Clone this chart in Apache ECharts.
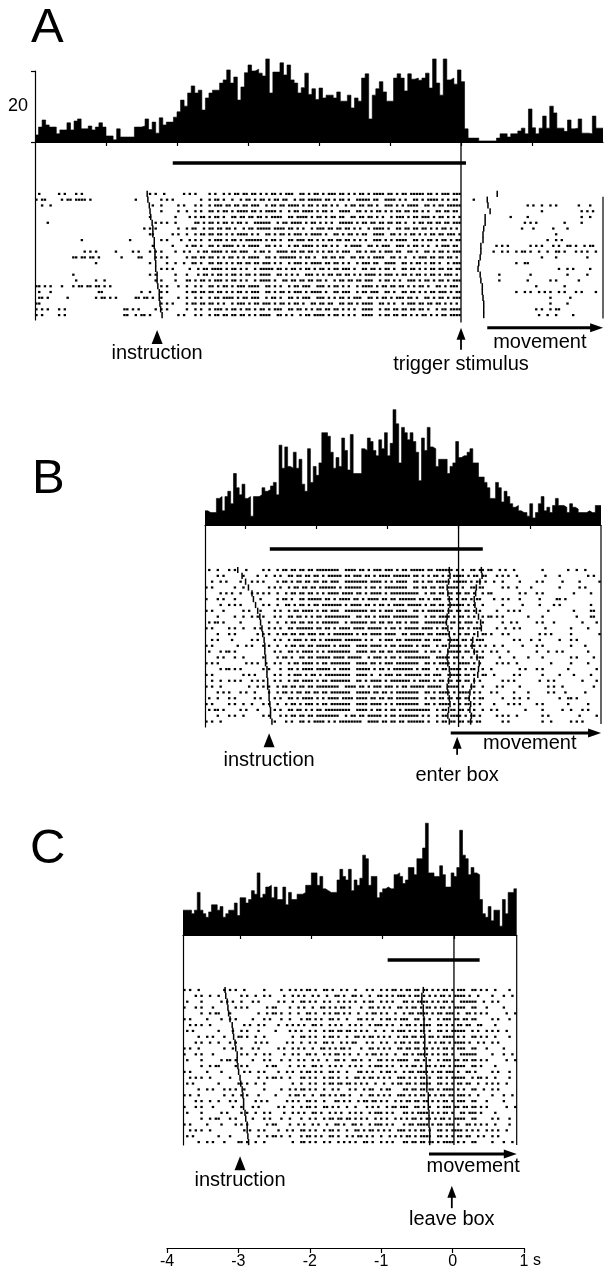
<!DOCTYPE html>
<html>
<head>
<meta charset="utf-8">
<script src="https://cdn.jsdelivr.net/npm/echarts@6/dist/echarts.min.js"></script>
<style>
html, body { margin: 0; padding: 0; background: #fff; }
#chart { width: 604px; height: 1276px; }
</style>
</head>
<body>
<div id="chart"></div>
<script>
// PSTH values (spikes/s). A: 50 ms bins from -6 s, B: 40 ms bins from -3.56 s, C: 40 ms bins from -3.8 s
const histA = [2,4.2,6.2,4.8,4.2,4.2,2.3,3.4,3.4,5.4,
  3.4,5.9,6.5,3.7,3.7,4.5,3.4,4.2,5.4,4.2,
  1.7,1.7,0.6,3.7,1.4,1.4,1.4,1.4,4.2,4.2,
  4.5,6.5,3.5,5.6,2.5,6.8,4.8,5.6,5.6,7,
  8.5,11.8,10.1,13.8,15.8,13.8,14.6,9,12.4,13.8,
  14.6,14.6,16.6,17.5,20.3,16.6,18.3,11.8,15.5,19.5,
  21.7,20,20.5,19.4,18.6,23.4,13.8,19.7,19.7,22.3,
  18.9,21.7,17.5,16.6,13.8,15.3,19.4,13.4,15,12,
  15.2,12.4,13.2,13.2,12.4,14.1,11.5,11.5,13.2,9.6,
  12.4,11.5,18,19.2,6.5,13.2,15,17,14.1,11.5,
  11.5,18,19.2,18,14.4,19.2,17.7,18,17.4,18,
  19.4,15.2,23.4,16.6,13.2,23.4,17.5,18,16.3,20.3,
  17,3.7,1.1,1.1,1.1,0.3,0.3,0.3,0.3,0.3,
  1.1,2.3,2.3,1.4,2.3,2.3,3.1,3.9,2.3,9.3,
  4,2.3,3.9,7.3,3.9,10.1,8.2,3.9,3.9,3,
  6.2,3.7,3.9,6.5,2.5,2.5,2.3,7.3,3.9,3.9];
const histB = [4,3.5,3.5,3.5,7.5,8,4,8,9.5,6,
  14.5,10.5,8.5,11.5,7.5,8,2.5,8,8,8.5,
  10.5,9.5,10,11,12,8.5,22.5,16,22,16.5,
  16,20.5,16,18.5,11.5,9.5,21.5,12,16.5,14,
  17.5,26,26,25,20.5,16,19,16.5,24.5,21,
  15.5,25.5,14.5,14.5,14.5,21.5,21,24.5,23.5,21,
  19.5,24,21.5,26,19.5,23,32.5,28.5,17.5,27.5,
  26,24,26,23.5,20.5,12.5,24.5,21,27.5,22,
  21.5,16.5,18.5,18.5,18.5,14.5,16.5,17.5,23.5,19,
  19.5,19.5,20.5,21.5,17.5,17.5,13.5,13.5,12,10.5,
  7.5,7.5,12,10.5,6.5,9.5,8,6,5,5.5,
  4,3.5,3.5,2.5,6,2,3.5,6,8,4,
  5,3.5,5.5,7.5,5.5,5.5,5,3.5,6,5,
  4.5,3.5,3.5,3.5,4,3.5,3.5,5.5,5.5];
const histC = [7,7,7,6,7,12,7,6,5,6.5,
  8.5,8.5,7,8,5,6,7,7,9,5.5,
  10.5,10.5,9,10,12.5,11.5,17.5,10.5,11.5,13.5,
  14,10.5,13.5,10,10,13.5,8.5,12,10,10,
  11.5,11.5,12,14,14,17.5,17.5,14,16.5,13,
  12.5,12,12,12,15.5,18.5,16.5,15.5,18.5,12.5,
  15.5,14,16,22.5,21.5,14,16.5,16.5,10.5,12,
  13,13.5,13,13,17,17.5,16.5,14.5,15.5,19,
  19,17,21.5,21.5,24.5,31.5,17.5,17.5,16.5,16.5,
  19.5,17,13.5,13.5,17.5,16.5,19,29.5,22.5,21.5,
  17,19,17.5,17,10,6,5,8,4,7,
  7,2.5,10,6,12,12,13];

// rasters: one row per trial, hex digits, each bit = one 40 ms bin (first bit = panel start)
const rasterA = [
  '40a2800000 a40a852b6d5ae6b5dab5ed6fb5dc 000000000000',
  'b05bd00010 0a8025a4b5ad96fb5a7d9ea6bd58 200000000000',
  '2400000000 4828a5db6e5b7ad6a5b69d5e6b7c 000005250110',
  '0000000000 0824a6b5ed7a5bd69e6ad5b6a6d8 0000002000a8',
  '0000000000 8042b5a6db5e6f5ad9b6a5d6eb54 000104000090',
  '0800000000 2a40d6b5a7e5bd6a9f5b6da5b6dc 00000a802080',
  '0000000002 a02596da5bef6a5db6a5e9b6d5a8 000011021000',
  '0000000000 c0a4b6d5ea6b5d7a6b59e6ad5b74 000000010000',
  '0000800040 0a12a5d6bf5a6ed5b6a9d5e6b5ac 000000094000',
  '0000000000 4085a6bd5e6a5bd6a5e6b9d6a5d8 002a02a29a58',
  '0000540828 a84a5bd6e5a7b6d5ae6b5d9a6b5c 004a5a49a2a4',
  '0006da020c 2a05b6ad5e6bf5a6d9b5e6a5db68 000000210020',
  '0000040000 8249a6d5b6ea5d7b6a5d9e6b5a5c 00004c000000',
  '0000000000 0a825bd6a5f6b5ad6e9b5a6d5b6c 000000009410',
  '0004000000 a0445ad6b5e6a9d5b6af5d6b5ae8 001002001020',
  '0002048000 2846b5d6a5e9b6da5b6e5a9d6b5c 001004050100',
  'd445b6a000 0a24a6b5de6a5b9d6a5eb6d5a6b8 000000802000',
  '4400030004 8a05b6d5ae6b5d7a6e5b9a6d5bac 00004a54a284',
  '681005a81b 4824a5bd6e5a6b9d5ae6b5da6b5c 000000040800',
  'c000000000 0a85b6a5d6eb5a6d9b5e6a5db6a8 000000041000',
  'a8a00001a8 2a04a5d6b5ae6d5b6a9e5b6da5bc 000000a58000',
  'a0a0000196 8028a5b6d5e6a5bd6a9e5b6ad5bc 000000490400'
];
const rasterB = [
  '48a20 a5b6dfe7b5dd6fb7ea6d 9480201240',
  '0a042 4a6db5f6ed7bf6ad5eb6 2a40108028',
  '2508a 85adb6e7fbd5e6b7df5a 4820a04102',
  'a0240 2a5b6fd7eb5fe6db7a6c 0a42008140',
  '0548a a4b6d5ef6bd7fe5b6da5 8028a00410',
  '8a201 05a6fb5ed7b6fdae6b58 4a2041a000',
  '04a80 a4d6b7f5ed6bdf5b7ea4 0810428010',
  'a2051 0a5bd6e7fb5de6bf6da8 22a0080418',
  '0824a 8a6d5bfe6d7bfe5bd6a5 a804200218',
  '5a080 24b6d7e5fb6dae7fb5d4 0940a20084',
  'a0a45 2a6fdb5ef7d6bef5a6b8 24a0100820',
  '08a02 a5b6ed7f5bde6fb7d5a6 8a00540802',
  '2840a 0a5d6bf7ea5dbf6e7b5c 00a2408a00',
  'a0128 a4b6df5e7bd6fae5bd6a 4810a00840',
  '45a00 0a6bd5fe7b6dfe5a7db4 a200894020',
  '0a240 85a6df7be5d6bfe7da5c 1084200a08',
  'a802a 4a5bd6fe7b5dfe6bd7a8 2a40040820',
  '05a80 a26bdf5e7d6bfae5bd64 8028a01004',
  'a0054 0a5d6bfe7a5dbf6e7da6 40a0208410',
  '24a8a 8a5bd6fe6bd7f5eb6da8 0a804a0084',
  'a4012 a5b6dfe7b5dd6fbe7a64 28200a4008',
  '0a8a4 25adb6fe7db5fe6bd7a8 a0840a2041',
  '48a05 0a6bd5ef7b6dfe5b6dac 08a4009a00',
  'a0a48 a4b5d6fe7bd5fe6bd5a8 42a0a01020',
  '5a0a2 0a6d5bfe7ad6bfe5b6a4 a0082048a0',
  '08a40 a2b6dfe5b7d6fea5bd68 2a40280104',
  'a4000 08a6bd5fe7b6dfa5b6d8 0a00240a80'
];
const rasterC = [
  'a402 a40825 5a6948a56 b6d5ae6 a420',
  '0a48 0a4a12 a5269a4d5 d6ab5e9 0894',
  '4205 48a052 6a52a9654 6bd5a7e 4a02',
  '8a20 2a0584 a4d5a26a9 ad6b5e6 2084',
  '0258 8025a4 9a56a4b52 5bd6e9a a048',
  'a084 a08a24 5a9a46a5a e6a5db6 0a24',
  '2a40 05284a a6952a5d4 b5e6ad9 8402',
  '5008 4a2085 4a5b6a925 d5a6be5 2a40',
  '04a2 1a4802 6a5a4d6a9 6db5ea6 a420',
  '0a48 a0540a 4a6958a52 d6ab5e9 4a02',
  'a402 48a052 a4d5a26a9 b6d5ae6 2084',
  '8a20 0a4a12 9a56a4b52 6bd5a7e 0894',
  '4205 a08a24 a5269a4d5 e6a5db6 a048',
  '0258 2a0584 a6952a5d4 ad6b5e6 8402',
  'a084 05284a 5a9a46a5a 5bd6e9a 0a24',
  '2a40 8025a4 6a5a4d6a9 d5a6be5 a420',
  '5008 1a4802 4a5b6a925 b5e6ad9 2a40',
  '04a2 a40825 6a4a29658 6db5ea6 4a02',
  'a402 4a2085 a4d5a26a9 d5ab6e9 0894',
  '0a48 a0540a 9a46a5b52 b6d5ae6 2084',
  '8a20 48a052 5a6a48a96 e6a5db6 a048',
  '4205 0a4a12 a6952a5d4 6bd5a6e 8402',
  '0258 a08a24 4a5b6a952 ad6b5e6 0a24',
  'a084 2a0584 a5269a5d4 5bd6e9a a420',
  '2a40 05284a 6a5a4d6a9 d5a6bd5 2a40',
  '5008 8025a4 5a9a56a4a b5e6ad9 4a02',
  '04a2 1a4802 6a52a9a54 6db5ea6 0894'
];

// per-trial event ticks (s)
const instrA = [-4.42,-4.41,-4.39,-4.38,-4.37,-4.35,-4.34,-4.34,-4.32,-4.32,-4.31,-4.31,-4.30,-4.30,-4.28,-4.28,-4.27,-4.25,-4.25,-4.24,-4.23,-4.21];
const moveA = [0.51,0.37,0.38,0.41,0.34,0.34,0.32,0.31,0.31,0.28,0.28,0.27,0.25,0.24,0.27,0.28,0.30,0.30,0.31,0.32,0.32,0.32];
const instrB = [-3.10,-3.04,-2.99,-2.95,-2.90,-2.88,-2.85,-2.82,-2.79,-2.78,-2.76,-2.75,-2.73,-2.72,-2.72,-2.71,-2.71,-2.69,-2.69,-2.68,-2.68,-2.66,-2.66,-2.65,-2.64,-2.64,-2.62];
const preB = [-0.13,-0.12,-0.14,-0.16,-0.15,-0.13,-0.12,-0.14,-0.16,-0.17,-0.15,-0.13,-0.12,-0.13,-0.15,-0.16,-0.15,-0.13,-0.12,-0.14,-0.16,-0.15,-0.13,-0.12,-0.14,-0.15,-0.13];
const postB = [0.32,0.33,0.30,0.25,0.24,0.22,0.23,0.25,0.28,0.31,0.32,0.27,0.20,0.19,0.22,0.26,0.29,0.28,0.27,0.22,0.18,0.16,0.15,0.17,0.16,0.18,0.17];
const instrC = [-3.21,-3.20,-3.18,-3.17,-3.16,-3.14,-3.11,-3.10,-3.09,-3.07,-3.06,-3.04,-3.04,-3.03,-3.02,-3.00,-2.99,-2.97,-2.96,-2.95,-2.95,-2.93,-2.92,-2.90,-2.90,-2.89,-2.88];
const preC = [-0.43,-0.45,-0.45,-0.43,-0.43,-0.42,-0.42,-0.42,-0.41,-0.41,-0.41,-0.41,-0.39,-0.39,-0.39,-0.38,-0.38,-0.38,-0.36,-0.36,-0.36,-0.35,-0.35,-0.35,-0.34,-0.34,-0.34];

// bars of sustained activity and annotations
const barA = [-4.06, 0.07];
const barB = [-2.65, 0.34];
const barC = [-0.93, 0.36];
const labelsA = ['instruction', 'trigger stimulus', 'movement'];
const labelsB = ['instruction', 'enter box', 'movement'];
const labelsC = ['instruction', 'leave box', 'movement'];
const labelTimesA = [-4.28, 0, 1.11];
const labelTimesB = [-2.66, -0.02, 1.0];
const labelTimesC = [-3.0, -0.03, 0.27];
const moveSpanA = [0.37, 2.0];
const moveSpanB = [-0.11, 2.0];
const moveSpanC = [-0.35, 0.88];

const FONT = '"Liberation Sans", Arial, Helvetica, sans-serif';
const BIN = 0.04;

function decode(rows, start, end) {
  const pts = [];
  rows.forEach((s, r) => {
    const hex = s.replace(/\s+/g, '');
    for (let k = 0; k < hex.length; k++) {
      const v = parseInt(hex[k], 16);
      for (let b = 0; b < 4; b++) {
        if (v & (8 >> b)) {
          const t = start + (4 * k + b + 0.5) * BIN;
          if (t < end) pts.push([t, r]);
        }
      }
    }
  });
  return pts;
}

const panels = [
  { hist: histA, histBin: 0.05, raster: rasterA, marks: [instrA, moveA], bar: barA,
    labels: labelsA, times: labelTimesA, move: moveSpanA,
    start: -6, end: 2, left: 35, width: 568, base: 142, rastH: 178, rows: [-9, 21.85],
    ticks: [-5, -4, -3, -2, -1, 0, 1], edge: [0.5, 21.6], scaleBar: true,
    lay: { bar: -5.36, zeroEnd: 22.3, tri: 24.8, instr: 27.6, head: 24.24, tail: 27.0, zeroLabel: 29.6, move: 23.2, moveLabel: 25.8 } },
  { hist: histB, histBin: 0.04, raster: rasterB, marks: [instrB, preB, postB], bar: barB,
    labels: labelsB, times: labelTimesB, move: moveSpanB,
    start: -3.56, end: 2, left: 205, width: 396, base: 525, rastH: 202, rows: [-7.72, 26.93],
    ticks: [-3, -2, -1, 0, 1], edge: [-7.72, 26.4], scaleBar: false,
    lay: { bar: -3.6, zeroEnd: 26.93, tri: 29.2, instr: 32.6, head: 29.63, tail: 31.7, zeroLabel: 35.2, move: 27.96, moveLabel: 29.7 } },
  { hist: histC, histBin: 0.04, raster: rasterC, marks: [instrC, preC], bar: barC,
    labels: labelsC, times: labelTimesC, move: moveSpanC,
    start: -3.8, end: 0.88, left: 183, width: 333.7, base: 935, rastH: 210, rows: [-9.4, 26.5],
    ticks: [-3, -2, -1, 0], edge: [-9.4, 26.5], scaleBar: false,
    lay: { bar: -5.13, zeroEnd: 26.5, tri: 29.6, instr: 32.65, head: 34.5, tail: 37.3, zeroLabel: 39.15, move: 28.04, moveLabel: 30.1 } }
];

const black = '#000';
const option = {
  animation: false,
  backgroundColor: '#fff',
  title: [
    { text: 'A', left: 31, top: 4, padding: 0, textStyle: { fontSize: 49, fontWeight: 'normal', color: black, fontFamily: FONT } },
    { text: 'B', left: 32, top: 455, padding: 0, textStyle: { fontSize: 49, fontWeight: 'normal', color: black, fontFamily: FONT } },
    { text: 'C', left: 30, top: 825, padding: 0, textStyle: { fontSize: 49, fontWeight: 'normal', color: black, fontFamily: FONT } }
  ],
  grid: [], xAxis: [], yAxis: [], series: []
};

function lineSeries(xi, yi, pts, w) {
  return { type: 'line', xAxisIndex: xi, yAxisIndex: yi, data: pts, symbol: 'none', clip: false,
    silent: true, lineStyle: { color: black, width: w }, z: 3 };
}
function markSeries(xi, yi, pts, symbol, size, rotate) {
  return { type: 'scatter', xAxisIndex: xi, yAxisIndex: yi, data: pts, symbol: symbol, symbolSize: size,
    symbolRotate: rotate || 0, clip: false, silent: true, itemStyle: { color: black, opacity: 1 }, z: 4 };
}

panels.forEach(p => {
  const g = option.grid.length;
  option.grid.push({ left: p.left, top: p.base - 71, width: p.width, height: 71 });
  option.grid.push({ left: p.left, top: p.base, width: p.width, height: p.rastH });
  const xh = option.xAxis.length, xr = xh + 1;
  option.xAxis.push({ gridIndex: g, type: 'value', min: p.start, max: p.end,
    axisLine: { show: true, onZero: false, lineStyle: { color: black, width: 1.2 } },
    axisTick: { show: true, length: 4, customValues: p.ticks, lineStyle: { color: black, width: 1.2 } },
    axisLabel: { show: false }, splitLine: { show: false } });
  option.xAxis.push({ gridIndex: g + 1, type: 'value', min: p.start, max: p.end, show: false });
  const yh = option.yAxis.length, yr = yh + 1;
  if (p.scaleBar) {
    option.yAxis.push({ gridIndex: g, type: 'value', min: 0, max: 20, interval: 20,
      axisLine: { show: true, onZero: false, lineStyle: { color: black, width: 1.2 } },
      axisTick: { show: true, length: 4, lineStyle: { color: black, width: 1.2 } },
      axisLabel: { show: false }, splitLine: { show: false },
      name: '20', nameLocation: 'middle', nameRotate: 0, nameGap: 7,
      nameTextStyle: { color: black, fontSize: 18, fontFamily: FONT } });
  } else {
    option.yAxis.push({ gridIndex: g, type: 'value', min: 0, max: 20, show: false });
  }
  option.yAxis.push({ gridIndex: g + 1, type: 'value', inverse: true, min: p.rows[0], max: p.rows[1],
    axisLine: { show: true, onZero: false, lineStyle: { color: black, width: 1.2 } },
    axisTick: { show: false }, axisLabel: { show: false }, splitLine: { show: false } });

  // histogram as a filled step line
  const hd = p.hist.map((v, i) => [p.start + i * p.histBin, v]);
  hd.push([p.end, p.hist[p.hist.length - 1]]);
  option.series.push({ type: 'line', xAxisIndex: xh, yAxisIndex: yh, data: hd, step: 'end', symbol: 'none',
    clip: false, silent: true, lineStyle: { color: black, width: 0.6 }, areaStyle: { color: black, opacity: 1 } });

  // spikes
  option.series.push({ type: 'scatter', xAxisIndex: xr, yAxisIndex: yr, data: decode(p.raster, p.start, p.end),
    symbol: 'rect', symbolSize: [2.4, 2.2], silent: true, itemStyle: { color: black, opacity: 1 } });

  // per-trial event ticks
  const ticks = [];
  p.marks.forEach(arr => arr.forEach((t, r) => ticks.push([t, r])));
  option.series.push(markSeries(xr, yr, ticks, 'rect', [1.5, 6.2]));

  const L = p.lay;
  option.series.push(lineSeries(xr, yr, [[p.bar[0], L.bar], [p.bar[1], L.bar]], 3.5));
  option.series.push(lineSeries(xr, yr, [[0, p.rows[0]], [0, L.zeroEnd]], 1.3));
  option.series.push(lineSeries(xr, yr, [[p.end, p.edge[0]], [p.end, p.edge[1]]], 1.2));

  // instruction triangle
  option.series.push(markSeries(xr, yr, [[p.times[0], L.tri]], 'triangle', [11, 14]));
  // event arrow at zero
  option.series.push(lineSeries(xr, yr, [[p.times[1], L.head], [p.times[1], L.tail]], 1.8));
  option.series.push(markSeries(xr, yr, [[p.times[1], L.head]], 'triangle', [9, 12]));
  // movement arrow
  option.series.push(lineSeries(xr, yr, [[p.move[0], L.move], [p.move[1] - 0.1, L.move]], 3));
  option.series.push(markSeries(xr, yr, [[p.move[1] - 0.09, L.move]], 'triangle', [9, 13], -90));

  // text labels
  option.series.push({ type: 'scatter', xAxisIndex: xr, yAxisIndex: yr, symbolSize: 0, clip: false, silent: true,
    itemStyle: { opacity: 1 },
    data: [
      { name: p.labels[0], value: [p.times[0], L.instr] },
      { name: p.labels[1], value: [p.times[1], L.zeroLabel] },
      { name: p.labels[2], value: [p.times[2], L.moveLabel] }
    ],
    label: { show: true, position: 'inside', formatter: '{b}', color: black, fontSize: 20, fontFamily: FONT } });
});

// common time axis
const ga = option.grid.length;
option.grid.push({ left: 167, top: 1200, width: 357, height: 48 });
option.xAxis.push({ gridIndex: ga, type: 'value', min: -4, max: 1, interval: 1,
  axisLine: { show: true, onZero: false, lineStyle: { color: black, width: 1.2 } },
  axisTick: { show: true, length: 5, lineStyle: { color: black, width: 1.2 } },
  axisLabel: { color: black, fontSize: 16, fontFamily: FONT, margin: 6 },
  splitLine: { show: false },
  name: 's', nameLocation: 'end', nameGap: 9,
  nameTextStyle: { color: black, fontSize: 16, fontFamily: FONT, verticalAlign: 'top', padding: [5, 0, 0, 0] } });
option.yAxis.push({ gridIndex: ga, type: 'value', min: 0, max: 1, show: false });

const chart = echarts.init(document.getElementById('chart'));
chart.setOption(option);
</script>
</body>
</html>
